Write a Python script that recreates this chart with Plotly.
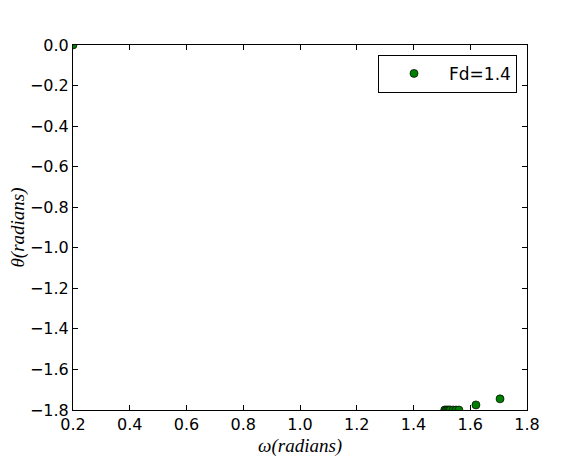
import plotly.graph_objects as go

omega = [0.2, 1.51, 1.515, 1.52, 1.525, 1.53, 1.54, 1.55, 1.56, 1.62, 1.705]
theta = [0.0, -1.80, -1.80, -1.80, -1.80, -1.80, -1.80, -1.80, -1.80, -1.775, -1.745]
series_name = "Fd=1.4"
x_title = "<i>ω(radians)</i>"
y_title = "<i>θ(radians)</i>"

x_ticks = [0.2, 0.4, 0.6, 0.8, 1.0, 1.2, 1.4, 1.6, 1.8]
y_ticks = [0.0, -0.2, -0.4, -0.6, -0.8, -1.0, -1.2, -1.4, -1.6, -1.8]

fig = go.Figure()
fig.add_trace(go.Scatter(
    x=omega, y=theta, mode="markers", name=series_name,
    marker=dict(color="#008000", size=8, line=dict(color="black", width=0.7)),
    cliponaxis=True, showlegend=True,
))

axis_common = dict(
    showgrid=False, zeroline=False, showline=True, linecolor="black", linewidth=1,
    mirror="ticks", ticks="inside", ticklen=5, tickwidth=1, tickcolor="black",
    tickfont=dict(family="DejaVu Sans", size=16, color="black"),
    automargin=False,
)

title_font = dict(family="Liberation Serif", size=19, color="black")

fig.update_layout(
    width=585, height=457,
    paper_bgcolor="white", plot_bgcolor="white",
    margin=dict(l=65, r=66, t=37, b=55),
    showlegend=True,
    legend=dict(
        x=0.978, y=0.973, xanchor="right", yanchor="top",
        bordercolor="black", borderwidth=1, bgcolor="white",
        font=dict(family="DejaVu Sans", size=17, color="black"),
        itemwidth=60,
    ),
    xaxis=dict(range=[0.2, 1.8], tickvals=x_ticks, tickformat=".1f", **axis_common),
    yaxis=dict(range=[-1.8, 0.0], tickvals=y_ticks, tickformat=".1f", **axis_common),
    annotations=[
        dict(text=x_title, xref="paper", yref="paper", x=0.5, y=0,
             xanchor="center", yanchor="bottom", yshift=-49, showarrow=False, font=title_font),
        dict(text=y_title, xref="paper", yref="paper", x=0, y=0.5, textangle=-90,
             xanchor="center", yanchor="middle", xshift=-56, showarrow=False, font=title_font),
    ],
)

fig.write_html("out.html")
